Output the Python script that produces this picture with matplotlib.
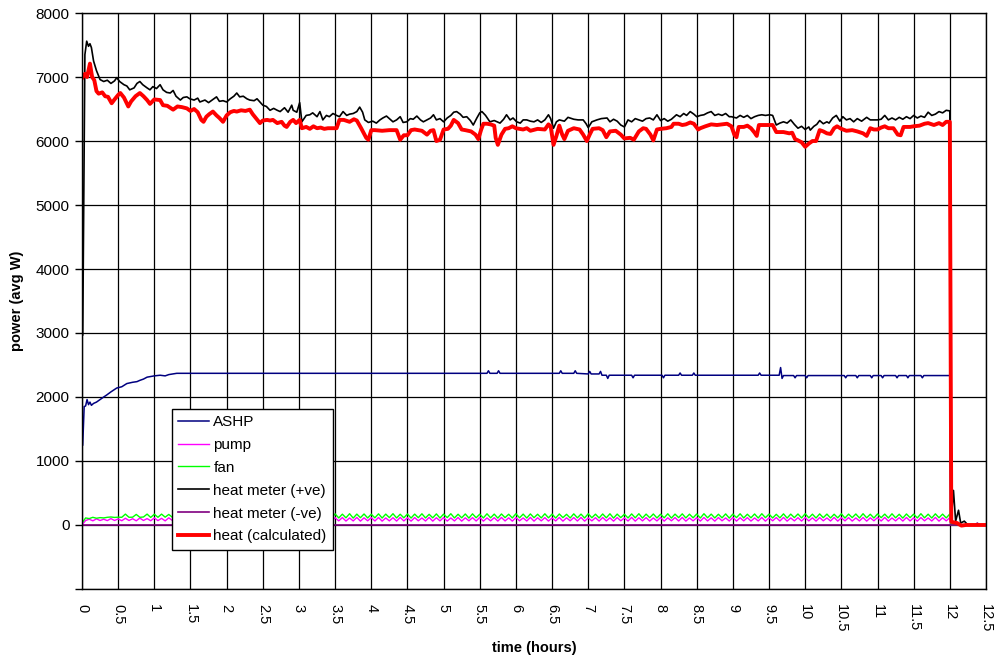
import matplotlib
matplotlib.use("Agg")
import matplotlib.pyplot as plt
from matplotlib.ticker import FixedLocator, FuncFormatter

plt.rcParams['font.family'] = ['Liberation Sans', 'DejaVu Sans']

# ---------------- data ----------------
ashp_t = [0.01, 0.03, 0.05, 0.07, 0.09, 0.11, 0.13, 0.16, 0.2, 0.25, 0.3, 0.34, 0.4, 0.48,
          0.55, 0.62, 0.7, 0.76, 0.8, 0.85, 0.9, 1.0, 1.08, 1.15, 1.2, 1.31,
          3.0, 5.6, 5.62, 5.64, 5.74, 5.76, 5.78, 6.6, 6.62, 6.64, 6.8, 6.82, 6.84,
          7.0, 7.02, 7.04, 7.15, 7.17, 7.19, 7.25, 7.27, 7.29, 7.6, 7.62, 7.64,
          8.02, 8.04, 8.06, 8.25, 8.27, 8.29, 8.44, 8.46, 8.48, 9.35, 9.37, 9.39,
          9.64, 9.66, 9.68, 9.70, 9.84, 9.86, 9.88, 10.0, 10.02, 10.04,
          10.54, 10.56, 10.58, 10.7, 10.72, 10.74, 10.9, 10.92, 10.94,
          11.05, 11.07, 11.09, 11.25, 11.27, 11.29, 11.4, 11.42, 11.44,
          11.6, 11.62, 11.64, 12.0, 12.01, 12.5]
ashp_v = [1250, 1850, 1860, 1960, 1880, 1920, 1870, 1900, 1920, 1960, 2000, 2030, 2080, 2140,
          2160, 2210, 2230, 2240, 2260, 2280, 2310, 2330, 2340, 2330, 2350, 2370,
          2370, 2370, 2410, 2370, 2370, 2410, 2370, 2370, 2410, 2370, 2370, 2410, 2370,
          2360, 2400, 2360, 2360, 2400, 2340, 2340, 2290, 2340, 2340, 2300, 2340,
          2340, 2300, 2340, 2340, 2375, 2340, 2340, 2375, 2340, 2340, 2375, 2340,
          2340, 2460, 2290, 2335, 2335, 2300, 2335, 2335, 2300, 2335,
          2335, 2300, 2335, 2335, 2300, 2335, 2335, 2300, 2335,
          2335, 2300, 2335, 2335, 2300, 2335, 2335, 2300, 2335,
          2335, 2300, 2335, 2335, 0, 0]

grid_t = [i * 0.05 for i in range(241)]

fan_v = [30, 110, 100, 120, 105, 115, 110, 120, 125, 118,
         122, 120, 170, 120, 122, 165, 120, 125, 170, 118,
         168, 120, 170, 122, 165, 120, 172, 115, 170, 112,
         175, 110, 168, 115, 172, 108, 170, 114, 176, 110,
         168, 112, 172, 110, 175, 115, 166, 108, 170, 112,
         174, 110, 168, 116, 172, 109, 176, 112, 170, 110,
         172, 114, 168, 108, 175, 112, 170, 110, 166, 115,
         173, 110, 169, 112, 176, 108, 170, 114, 172, 110,
         168, 112, 174, 109, 170, 115, 176, 110, 168, 112,
         172, 108, 170, 114, 175, 110, 167, 112, 173, 109,
         170, 115, 176, 110, 168, 112, 172, 108, 174, 113,
         169, 110, 175, 112, 170, 108, 172, 115, 168, 110,
         176, 112, 170, 109, 173, 114, 168, 110, 175, 112,
         170, 108, 172, 115, 167, 110, 174, 112, 170, 109,
         176, 113, 169, 110, 172, 112, 175, 108, 170, 115,
         168, 110, 173, 112, 176, 109, 170, 114, 172, 110,
         168, 112, 175, 108, 170, 115, 174, 110, 169, 112,
         172, 109, 176, 113, 170, 110, 168, 112, 173, 108,
         170, 115, 175, 110, 168, 112, 172, 109, 176, 114,
         170, 110, 167, 112, 174, 108, 170, 115, 172, 110,
         176, 112, 169, 109, 173, 114, 170, 110, 168, 112,
         175, 108, 170, 115, 172, 110, 176, 112, 168, 109,
         173, 114, 170, 110, 175, 112, 168, 108, 172, 115,
         170, 110, 176, 112, 169, 109, 174, 113, 170, 110,
         172]

pump_v = [0, 70, 90, 65, 95, 70, 90, 68, 100, 70,
          95, 66, 105, 70, 98, 65, 108, 70, 100, 66,
          110, 68, 104, 64, 112, 70, 106, 62, 115, 68,
          108, 60, 116, 66, 110, 62, 118, 65, 112, 60,
          115, 64, 110, 60, 118, 66, 112, 62, 116, 60,
          110, 64, 118, 62, 113, 60, 116, 65, 110, 61,
          117, 63, 112, 60, 115, 66, 110, 62, 118, 60,
          113, 64, 116, 61, 110, 63, 118, 60, 112, 65,
          115, 62, 117, 60, 110, 64, 114, 61, 118, 63,
          112, 60, 116, 65, 110, 62, 118, 60, 113, 64,
          116, 61, 110, 63, 117, 60, 112, 65, 115, 62,
          118, 60, 110, 64, 114, 61, 117, 63, 112, 60,
          116, 65, 110, 62, 118, 60, 113, 64, 115, 61,
          110, 63, 117, 60, 112, 65, 116, 62, 118, 60,
          110, 64, 114, 61, 117, 63, 112, 60, 116, 65,
          110, 62, 118, 60, 113, 64, 115, 61, 110, 63,
          117, 60, 112, 65, 116, 62, 118, 60, 110, 64,
          114, 61, 117, 63, 112, 60, 116, 65, 110, 62,
          118, 60, 113, 64, 115, 61, 110, 63, 117, 60,
          112, 65, 116, 62, 118, 60, 110, 64, 114, 61,
          117, 63, 112, 60, 116, 65, 110, 62, 118, 60,
          113, 64, 115, 61, 110, 63, 117, 60, 112, 65,
          116, 62, 118, 60, 110, 64, 114, 61, 117, 63,
          112, 60, 116, 65, 110, 62, 118, 60, 113, 64,
          115]

after_t = [12.02, 12.5]
after_v = [0, 0]

hmpos_t = [0.01, 0.04, 0.065, 0.09, 0.11, 0.13, 0.16, 0.2, 0.25, 0.3, 0.35, 0.4, 0.45, 0.48,
           0.52, 0.58, 0.62, 0.66, 0.72, 0.76, 0.8, 0.84, 0.9, 0.94, 0.98, 1.03, 1.08, 1.12,
           1.17, 1.22, 1.26, 1.3, 1.36, 1.4, 1.45, 1.49, 1.55, 1.6, 1.63, 1.7, 1.75, 1.81,
           1.86, 1.9, 1.95, 2.0, 2.05, 2.1, 2.14, 2.18, 2.23, 2.28, 2.32, 2.38, 2.42, 2.46,
           2.5, 2.55, 2.6, 2.65, 2.7, 2.74, 2.8, 2.85, 2.9, 2.92, 2.97, 3.01, 3.04, 3.1,
           3.15, 3.19, 3.25, 3.29, 3.33, 3.38, 3.42, 3.47, 3.52, 3.56, 3.61, 3.66, 3.7, 3.75,
           3.8, 3.84, 3.88, 3.91, 3.96, 4.02, 4.07, 4.12, 4.16, 4.21, 4.26, 4.3, 4.35, 4.4,
           4.44, 4.49, 4.54, 4.58, 4.63, 4.68, 4.72, 4.77, 4.82, 4.86, 4.9, 4.95, 5.0, 5.05,
           5.1, 5.14, 5.18, 5.23, 5.27, 5.32, 5.37, 5.41, 5.46, 5.5, 5.53, 5.58, 5.64, 5.7,
           5.74, 5.78, 5.83, 5.87, 5.92, 5.96, 6.01, 6.06, 6.1, 6.15, 6.2, 6.25, 6.3, 6.35,
           6.4, 6.45, 6.48, 6.52, 6.56, 6.6, 6.67, 6.72, 6.8, 6.86, 6.93, 6.97, 7.0, 7.05,
           7.12, 7.18, 7.26, 7.3, 7.35, 7.4, 7.45, 7.5, 7.55, 7.6, 7.65, 7.7, 7.75, 7.8,
           7.85, 7.9, 7.95, 8.0, 8.05, 8.1, 8.15, 8.22, 8.27, 8.32, 8.36, 8.41, 8.46, 8.5,
           8.55, 8.6, 8.65, 8.7, 8.75, 8.8, 8.85, 8.9, 8.95, 8.98, 9.05, 9.1, 9.15, 9.2,
           9.25, 9.3, 9.35, 9.4, 9.45, 9.51, 9.55, 9.6, 9.65, 9.7, 9.75, 9.8, 9.85, 9.9,
           9.95, 10.0, 10.05, 10.07, 10.12, 10.16, 10.2, 10.25, 10.3, 10.33, 10.38, 10.43,
           10.48, 10.52, 10.57, 10.62, 10.67, 10.72, 10.78, 10.85, 10.9, 10.95, 11.0, 11.05,
           11.1, 11.15, 11.2, 11.25, 11.3, 11.35, 11.4, 11.45, 11.5, 11.55, 11.6, 11.65,
           11.7, 11.75, 11.8, 11.85, 11.9, 11.95, 12.0, 12.02, 12.05, 12.08, 12.12, 12.15,
           12.2, 12.25, 12.5]
hmpos_v = [2970, 7350, 7560, 7480, 7520, 7460, 7250, 7100, 6960, 6930, 6950, 6900, 6940, 6990,
           6930, 6880, 6860, 6800, 6830, 6900, 6930, 6880, 6830, 6800, 6850, 6820, 6880, 6800,
           6760, 6750, 6790, 6700, 6640, 6680, 6690, 6660, 6640, 6670, 6610, 6640, 6600, 6650,
           6690, 6620, 6630, 6610, 6660, 6700, 6750, 6690, 6700, 6660, 6640, 6630, 6660, 6610,
           6560, 6540, 6480, 6510, 6480, 6460, 6520, 6450, 6560, 6480, 6450, 6600, 6300, 6400,
           6410, 6440, 6380, 6460, 6330, 6400, 6380, 6430, 6400, 6380, 6460, 6400, 6420, 6430,
           6460, 6530, 6450, 6330, 6290, 6310, 6280, 6330, 6360, 6390, 6340, 6300, 6330, 6380,
           6290, 6300, 6350, 6340, 6390, 6330, 6300, 6330, 6360, 6410, 6330, 6350, 6300, 6360,
           6400, 6450, 6460, 6420, 6370, 6380, 6320, 6250, 6360, 6440, 6460, 6400, 6300, 6320,
           6300, 6280, 6340, 6410, 6330, 6360, 6300, 6280, 6330, 6330, 6310, 6300, 6330, 6290,
           6330, 6410, 6350, 6200, 6300, 6330, 6310, 6370, 6340, 6330, 6330, 6270, 6210, 6300,
           6330, 6350, 6360, 6300, 6340, 6310, 6250, 6220, 6330, 6300, 6350, 6330, 6310, 6350,
           6360, 6330, 6410, 6320, 6350, 6310, 6340, 6410, 6380, 6430, 6400, 6460, 6420, 6380,
           6400, 6410, 6440, 6460, 6400, 6420, 6400, 6430, 6380, 6380, 6360, 6400, 6370, 6400,
           6350, 6380, 6400, 6410, 6400, 6410, 6400, 6250, 6280, 6300, 6280, 6330, 6260, 6200,
           6230, 6180, 6220, 6170, 6230, 6260, 6320, 6270, 6300, 6280, 6360, 6400,
           6310, 6380, 6330, 6350, 6300, 6350, 6310, 6370, 6330, 6330, 6330, 6340,
           6400, 6330, 6360, 6330, 6370, 6340, 6380, 6350, 6400, 6360, 6390, 6370,
           6450, 6400, 6420, 6460, 6440, 6480, 6470, 100, 540, 60, 230, 30,
           60, 0, 0]

hmneg_t = [0.0, 12.35, 12.38, 12.41, 12.5]
hmneg_v = [0, 0, 30, 0, 0]

heat_t = [0.0, 0.04, 0.07, 0.11, 0.14, 0.17, 0.2, 0.23, 0.28, 0.32, 0.36, 0.41, 0.45, 0.5,
          0.53, 0.58, 0.64, 0.68, 0.74, 0.8, 0.85, 0.9, 0.94, 1.0, 1.08, 1.12, 1.18, 1.26,
          1.32, 1.38, 1.45, 1.5, 1.55, 1.6, 1.65, 1.68, 1.72, 1.76, 1.81, 1.86, 1.9, 1.95,
          2.0, 2.05, 2.1, 2.14, 2.2, 2.26, 2.32, 2.36, 2.41, 2.46, 2.5, 2.56, 2.6, 2.64,
          2.7, 2.76, 2.8, 2.83, 2.88, 2.92, 2.96, 3.01, 3.04, 3.1, 3.15, 3.2, 3.25, 3.3,
          3.35, 3.4, 3.47, 3.52, 3.56, 3.62, 3.7, 3.76, 3.8, 3.86, 3.93, 3.96, 4.0, 4.05,
          4.15, 4.25, 4.35, 4.4, 4.45, 4.5, 4.55, 4.6, 4.7, 4.77, 4.82, 4.86, 4.9, 4.95,
          5.0, 5.06, 5.1, 5.14, 5.2, 5.25, 5.3, 5.38, 5.44, 5.48, 5.52, 5.55, 5.6, 5.65,
          5.7, 5.72, 5.75, 5.8, 5.85, 5.9, 5.95, 6.0, 6.05, 6.1, 6.15, 6.2, 6.3, 6.4,
          6.45, 6.48, 6.52, 6.56, 6.6, 6.64, 6.67, 6.72, 6.8, 6.88, 6.93, 6.98, 7.02, 7.06,
          7.15, 7.2, 7.25, 7.3, 7.38, 7.45, 7.5, 7.58, 7.63, 7.7, 7.76, 7.8, 7.86, 7.9,
          7.95, 8.0, 8.08, 8.15, 8.18, 8.25, 8.3, 8.35, 8.41, 8.46, 8.52, 8.55, 8.62, 8.7,
          8.78, 8.85, 8.92, 8.98, 9.02, 9.05, 9.08, 9.15, 9.2, 9.25, 9.3, 9.33, 9.36, 9.45,
          9.55, 9.6, 9.7, 9.78, 9.82, 9.86, 9.9, 9.95, 10.0, 10.05, 10.1, 10.15, 10.2, 10.25,
          10.3, 10.35, 10.4, 10.44, 10.5, 10.57, 10.65, 10.72, 10.8, 10.85, 10.9, 10.95,
          11.0, 11.05, 11.1, 11.15, 11.22, 11.28, 11.32, 11.36, 11.45, 11.5, 11.58, 11.65,
          11.7, 11.78, 11.85, 11.9, 11.95, 12.0, 12.02, 12.1, 12.16, 12.22, 12.5]
heat_v = [6980, 7050, 7000, 7210, 7000, 6950, 6780, 6740, 6760, 6700, 6690, 6590, 6650, 6720,
          6750, 6680, 6540, 6620, 6700, 6750, 6700, 6640, 6580, 6650, 6640, 6560, 6550, 6490,
          6540, 6530, 6510, 6470, 6500, 6450, 6330, 6300, 6380, 6420, 6460, 6400, 6360, 6300,
          6400, 6450, 6470, 6460, 6480, 6470, 6490, 6420, 6350, 6280, 6320, 6330, 6320, 6330,
          6280, 6300, 6240, 6220, 6300, 6330, 6280, 6330, 6200, 6220, 6190, 6230, 6200, 6210,
          6190, 6200, 6200, 6200, 6330, 6330, 6300, 6340, 6320, 6200, 6050, 6020, 6170, 6170,
          6160, 6170, 6170, 6020, 6090, 6090, 6170, 6180, 6160, 6100, 6160, 6170, 6000, 6020,
          6180, 6190, 6240, 6330, 6280, 6180, 6170, 6150, 6100, 6030, 6180, 6270, 6270, 6260,
          6240, 6050, 5940, 6100, 6190, 6200, 6230, 6200, 6190, 6180, 6200, 6160, 6190, 6180,
          6260, 6230, 5940, 6080, 6240, 6100, 6030, 6160, 6200, 6180, 6100, 6000, 6100, 6190,
          6200, 6170, 6060, 6150, 6160, 6100, 6040, 6050, 6020, 6150, 6200, 6190, 6100, 6010,
          6180, 6190, 6200, 6220, 6270, 6270, 6250, 6260, 6290, 6270, 6180, 6200, 6230, 6260,
          6250, 6260, 6270, 6230, 6100, 6060, 6220, 6220, 6240, 6200, 6130, 6080, 6250, 6250,
          6250, 6140, 6140, 6120, 6130, 6030, 6010, 5980, 5910, 5960, 6000, 6000, 6170, 6150,
          6120, 6110, 6200, 6230, 6190, 6160, 6170, 6150, 6120, 6080, 6200, 6180,
          6180, 6210, 6230, 6200, 6200, 6100, 6090, 6220, 6220, 6230, 6240, 6270,
          6280, 6250, 6280, 6250, 6300, 6300, 50, 30, -10, 0, 0]

legend_labels = ["ASHP", "pump", "fan", "heat meter (+ve)", "heat meter (-ve)", "heat (calculated)"]
y_ticks = list(range(-1000, 8001, 1000))
x_ticks = [i * 0.5 for i in range(26)]

# ---------------- figure ----------------
fig = plt.figure(figsize=(10, 6.58), dpi=100)
ax = fig.add_axes([0.082, 0.1049, 0.904, 0.8753])

ax.plot(ashp_t, ashp_v, color='#000080', lw=1.1, label=legend_labels[0])
ax.plot(grid_t + after_t, pump_v + after_v, color='#FF00FF', lw=1.0, label=legend_labels[1])
ax.plot(grid_t + after_t, fan_v + after_v, color='#00FF00', lw=1.0, label=legend_labels[2])
ax.plot(hmpos_t, hmpos_v, color='black', lw=1.2, label=legend_labels[3])
ax.plot(hmneg_t, hmneg_v, color='#800080', lw=1.2, label=legend_labels[4])
ax.plot(heat_t, heat_v, color='#FF0000', lw=2.8, label=legend_labels[5])

ax.set_xlim(0, 12.5)
ax.set_ylim(-1000, 8000)
ax.xaxis.set_major_locator(FixedLocator(x_ticks))
ax.yaxis.set_major_locator(FixedLocator(y_ticks))
ax.xaxis.set_major_formatter(FuncFormatter(lambda v, p: f"{v:g}"))
ax.yaxis.set_major_formatter(FuncFormatter(lambda v, p: "" if v < 0 else f"{int(v)}"))
ax.grid(True, color='black', lw=0.9)
ax.set_axisbelow(True)
for s in ax.spines.values():
    s.set_color('black')
    s.set_linewidth(1.0)
ax.tick_params(axis='y', direction='out', length=5, width=1, labelsize=11, pad=4)
ax.tick_params(axis='x', direction='out', length=0, labelsize=10.5, pad=11, labelrotation=-90)

ax.set_xlabel("time (hours)", fontsize=10.5, fontweight='bold', labelpad=6)
ax.set_ylabel("power (avg W)", fontsize=10.5, fontweight='bold', labelpad=8)

leg = ax.legend(loc='upper left', bbox_to_anchor=(0.0996, 0.3125), borderaxespad=0,
                fontsize=11, frameon=True, fancybox=False, framealpha=1,
                edgecolor='black', handlelength=2.0, labelspacing=0.58,
                handletextpad=0.3, borderpad=0.4)
leg.get_frame().set_linewidth(1.0)

fig.savefig("out.png", dpi=100)
